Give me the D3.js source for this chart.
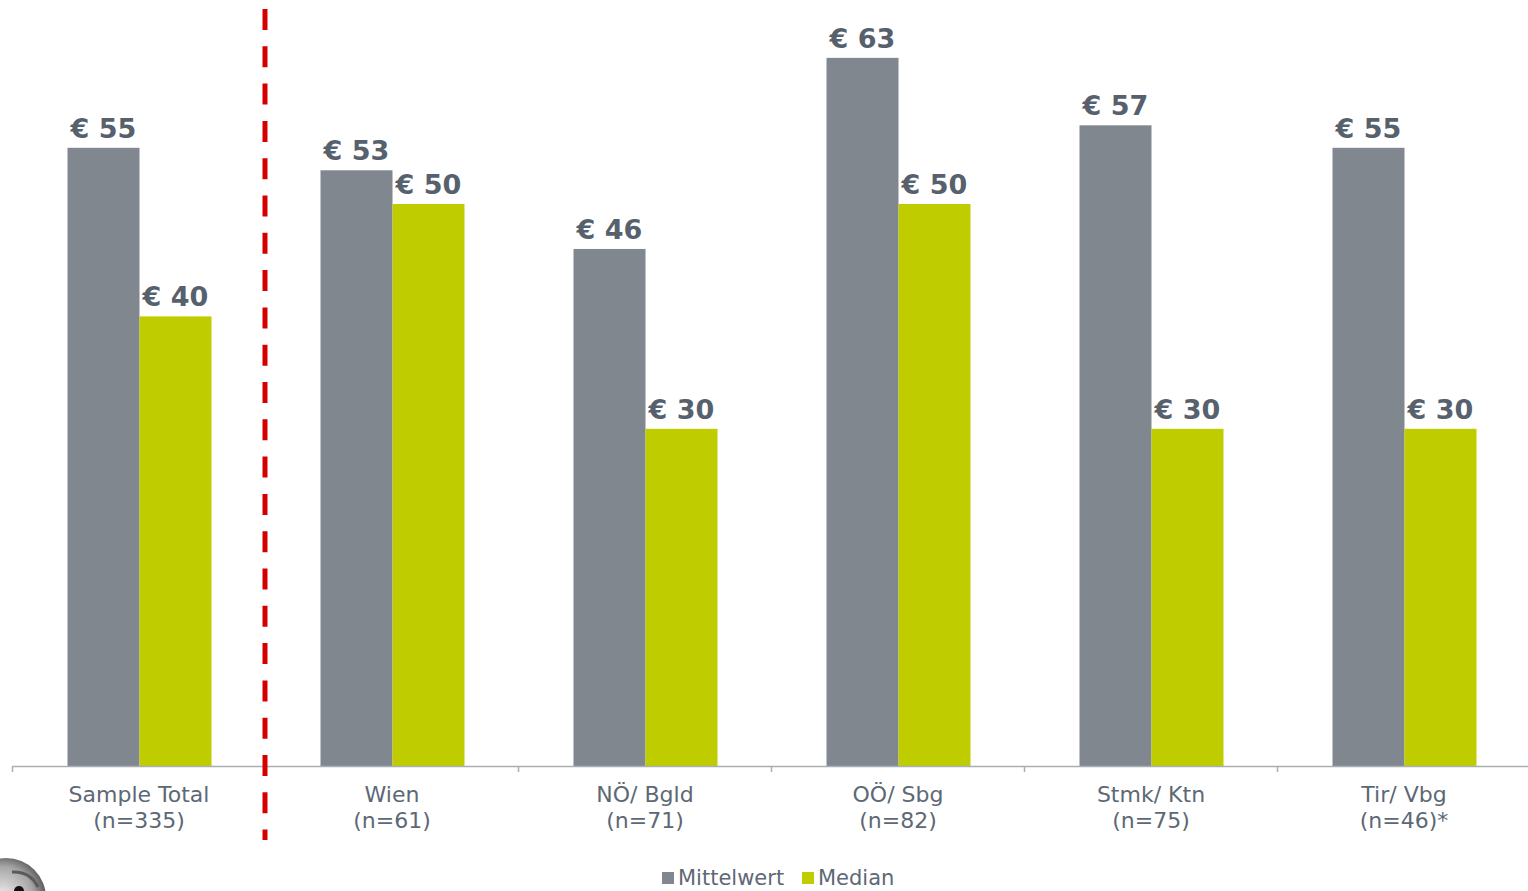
<!DOCTYPE html>
<html>
<head>
<meta charset="utf-8">
<script src="https://cdn.jsdelivr.net/npm/d3@7/dist/d3.min.js"></script>
<style>
  html, body { margin: 0; padding: 0; background: #ffffff; }
  svg { display: block; }
  text { font-family: "DejaVu Sans", Verdana, sans-serif; }
</style>
</head>
<body>
<script>
// Regions and sample sizes (two-line category labels)
const categories = ["Sample Total", "Wien", "NÖ/ Bgld", "OÖ/ Sbg", "Stmk/ Ktn", "Tir/ Vbg"];
const sampleSizes = ["(n=335)", "(n=61)", "(n=71)", "(n=82)", "(n=75)", "(n=46)*"];

// Spending in euro
const mittelwert = [55, 53, 46, 63, 57, 55];
const median = [40, 50, 30, 50, 30, 30];

const seriesNames = ["Mittelwert", "Median"];
const seriesColors = ["#80878f", "#bfcc00"];

const W = 1528, H = 891;
const baseY = 766;

const svg = d3.select("body").append("svg")
  .attr("width", W).attr("height", H);

const x = d3.scaleBand().domain(categories).range([12, 12 + 6 * 253]).padding(0);
const y = d3.scaleLinear().domain([0, 68]).range([baseY, baseY - 68 * 11.24]);

const barW = 72;
const series = [mittelwert, median];
const groupCenter = (c) => x(c) + x.bandwidth() / 2 + 1;

// Bars
series.forEach((vals, s) => {
  svg.append("g").selectAll("rect")
    .data(categories)
    .join("rect")
    .attr("x", (c) => groupCenter(c) - barW + s * barW)
    .attr("y", (c, i) => y(vals[i]))
    .attr("width", barW)
    .attr("height", (c, i) => baseY - y(vals[i]))
    .attr("fill", seriesColors[s]);
});

// Value labels
series.forEach((vals, s) => {
  svg.append("g").selectAll("text")
    .data(categories)
    .join("text")
    .attr("x", (c) => groupCenter(c) - barW / 2 + s * barW)
    .attr("y", (c, i) => y(vals[i]) - 10)
    .attr("text-anchor", "middle")
    .attr("font-size", 27)
    .attr("font-weight", "bold")
    .attr("fill", "#56616d")
    .text((c, i) => "€ " + vals[i]);
});

// Category axis: baseline with ticks at band boundaries
const axis = svg.append("g");
axis.append("line")
  .attr("x1", x.range()[0]).attr("x2", W)
  .attr("y1", baseY + 0.5).attr("y2", baseY + 0.5)
  .attr("stroke", "#a9aeb3").attr("stroke-width", 1.5);
axis.selectAll("line.tick")
  .data(categories)
  .join("line")
  .attr("class", "tick")
  .attr("x1", (c) => x(c) + 0.5).attr("x2", (c) => x(c) + 0.5)
  .attr("y1", baseY).attr("y2", baseY + 6)
  .attr("stroke", "#a9aeb3").attr("stroke-width", 1.5);

const catLabels = axis.selectAll("text.cat")
  .data(categories)
  .join("text")
  .attr("class", "cat")
  .attr("text-anchor", "middle")
  .attr("font-size", 22)
  .attr("fill", "#5d6875");
catLabels.append("tspan")
  .attr("x", (c) => x(c) + x.bandwidth() / 2 + 0.5)
  .attr("y", 802)
  .text((c) => c);
catLabels.append("tspan")
  .attr("x", (c) => x(c) + x.bandwidth() / 2 + 0.5)
  .attr("y", 828)
  .text((c, i) => sampleSizes[i]);

// Divider between total and regions
svg.append("line")
  .attr("x1", x(categories[1])).attr("x2", x(categories[1]))
  .attr("y1", 9).attr("y2", 840)
  .attr("stroke", "#d40000")
  .attr("stroke-width", 5)
  .attr("stroke-dasharray", "21 16.3");

// Legend
const legend = svg.append("g");
const legendX = [662, 802];
seriesNames.forEach((name, s) => {
  legend.append("rect")
    .attr("x", legendX[s]).attr("y", 872)
    .attr("width", 12).attr("height", 12)
    .attr("fill", seriesColors[s]);
  legend.append("text")
    .attr("x", legendX[s] + 16).attr("y", 885)
    .attr("font-size", 21)
    .attr("fill", "#5d6875")
    .text(name);
});

// Corner emblem
const defs = svg.append("defs");
const grad = defs.append("radialGradient").attr("id", "emb")
  .attr("cx", "45%").attr("cy", "50%").attr("r", "60%");
grad.append("stop").attr("offset", "0%").attr("stop-color", "#f0f0f0");
grad.append("stop").attr("offset", "65%").attr("stop-color", "#a8a8a8");
grad.append("stop").attr("offset", "100%").attr("stop-color", "#444");
const emb = svg.append("g");
emb.append("circle").attr("cx", 6).attr("cy", 898).attr("r", 40).attr("fill", "url(#emb)");
emb.append("path")
  .attr("d", "M 12 872 Q 30 871 38 887")
  .attr("fill", "none").attr("stroke", "#5a5a5a").attr("stroke-width", 3);
emb.append("circle").attr("cx", 19).attr("cy", 891).attr("r", 5).attr("fill", "#111");
</script>
</body>
</html>
